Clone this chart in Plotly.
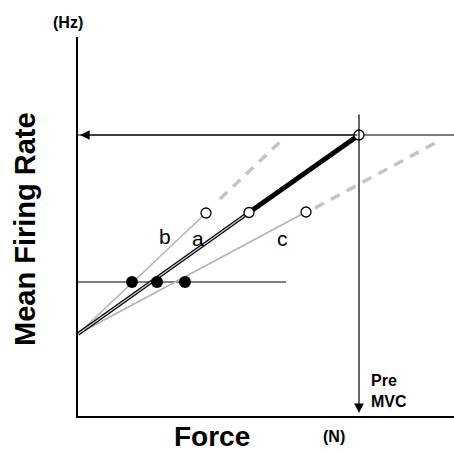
import plotly.graph_objects as go

# ---- data (force in N-like units, rate in Hz-like units) ----
intercept = [0, 82]
series_names = ["b", "a", "c"]
open_force = [128, 171, 228]
open_rate = [203, 203.5, 204]
dot_force = [54, 79, 107]
dot_rate = [134, 134, 134]
threshold_force = [0, 208]
threshold_rate = [134, 134]
mvc_force = 281
mvc_rate = 281
mvc_line_force = [281, 376]
mvc_vert_rate = [303, 0]
b_dash_force = [142, 205]
b_dash_rate = [217, 277]
c_dash_force = [237, 359]
c_dash_rate = [208, 274]
label_pos_force = [87, 120, 204]
label_pos_rate = [180, 178, 178]

FONT = "Liberation Sans, Arial, sans-serif"
GRAY = "#b4b4b4"
DGRAY = "#c4c4c4"

W, H = 454, 453
ML, MR, MT, MB = 78, 0, 37, 37
PW, PH = W - ML - MR, H - MT - MB


def px(x):  # pixel -> paper x
    return (x - ML) / PW


def py(y):  # pixel -> paper y
    return (H - MB - y) / PH


fig = go.Figure()


def line(xs, ys, color, width, dash=None):
    fig.add_trace(go.Scatter(x=xs, y=ys, mode="lines",
                             line=dict(color=color, width=width, dash=dash),
                             hoverinfo="skip", showlegend=False, cliponaxis=False))


# threshold horizontal line
line(threshold_force, threshold_rate, "black", 1.2)
# MVC horizontal line
line([0, mvc_line_force[1]], [mvc_rate, mvc_rate], "black", 1.2)

# dashed extensions
line(b_dash_force, b_dash_rate, DGRAY, 3.5, "10px,8px")
line(c_dash_force, c_dash_rate, DGRAY, 3.5, "10px,8px")

# b and c gray lines
line([intercept[0], open_force[0]], [intercept[1], open_rate[0]], GRAY, 1.6)
line([intercept[0], open_force[2]], [intercept[1], open_rate[2]], GRAY, 1.6)
# a: double line
line([intercept[0], open_force[1]], [intercept[1], open_rate[1]], "black", 3.6)
line([intercept[0], open_force[1]], [intercept[1], open_rate[1]], "#c8c8c8", 1.4)
# thick black segment a -> MVC
line([open_force[1], mvc_force], [open_rate[1], mvc_rate], "black", 5)

# black dots
fig.add_trace(go.Scatter(x=dot_force, y=dot_rate, mode="markers",
                         marker=dict(color="black", size=12),
                         hoverinfo="skip", showlegend=False, cliponaxis=False))
# open circles
fig.add_trace(go.Scatter(x=open_force + [mvc_force], y=open_rate + [mvc_rate], mode="markers",
                         marker=dict(color="white", size=10, line=dict(color="black", width=1.3)),
                         hoverinfo="skip", showlegend=False, cliponaxis=False))

annotations = []
# arrows
annotations.append(dict(x=2, y=mvc_rate, ax=mvc_force, ay=mvc_rate, xref="x", yref="y",
                        axref="x", ayref="y", text="", showarrow=True, arrowhead=2,
                        arrowsize=1.6, arrowwidth=1.2, arrowcolor="black", standoff=0))
annotations.append(dict(x=mvc_force, y=3, ax=mvc_force, ay=mvc_vert_rate[0], xref="x", yref="y",
                        axref="x", ayref="y", text="", showarrow=True, arrowhead=2,
                        arrowsize=1.6, arrowwidth=1.2, arrowcolor="black", standoff=0))

# series labels
for n, fx, fy in zip(series_names, label_pos_force, label_pos_rate):
    annotations.append(dict(x=fx, y=fy, xref="x", yref="y", text=n, showarrow=False,
                            xanchor="center", yanchor="middle",
                            font=dict(family=FONT, size=21, color="black")))

annotations += [
    dict(x=px(25), y=py(229), xref="paper", yref="paper", text="<b>Mean Firing Rate</b>",
         textangle=-90, xanchor="center", yanchor="middle", showarrow=False,
         font=dict(family=FONT, size=29, color="black")),
    dict(x=px(68), y=py(23), xref="paper", yref="paper", text="<b>(Hz)</b>", showarrow=False,
         xanchor="center", yanchor="middle", font=dict(family=FONT, size=16, color="black")),
    dict(x=px(212), y=py(436), xref="paper", yref="paper", text="<b>Force</b>", showarrow=False,
         xanchor="center", yanchor="middle", font=dict(family=FONT, size=28, color="black")),
    dict(x=px(334), y=py(436), xref="paper", yref="paper", text="<b>(N)</b>", showarrow=False,
         xanchor="center", yanchor="middle", font=dict(family=FONT, size=16, color="black")),
    dict(x=291, y=25, xref="x", yref="y", text="<b>Pre<br>MVC</b>", showarrow=False,
         xanchor="left", yanchor="middle", align="left",
         font=dict(family=FONT, size=16, color="black")),
]

fig.update_layout(
    width=W, height=H,
    margin=dict(l=ML, r=MR, t=MT, b=MB, pad=0),
    plot_bgcolor="white", paper_bgcolor="white",
    annotations=annotations,
    xaxis=dict(range=[0, 376], showgrid=False, zeroline=False, showticklabels=False,
               ticks="", showline=True, linecolor="black", linewidth=2, fixedrange=True),
    yaxis=dict(range=[0, 379], showgrid=False, zeroline=False, showticklabels=False,
               ticks="", showline=True, linecolor="black", linewidth=2, fixedrange=True),
)

fig.write_html("out.html", config={"displayModeBar": False},
               post_script="document.body.style.margin='0';document.body.style.overflow='hidden';")
